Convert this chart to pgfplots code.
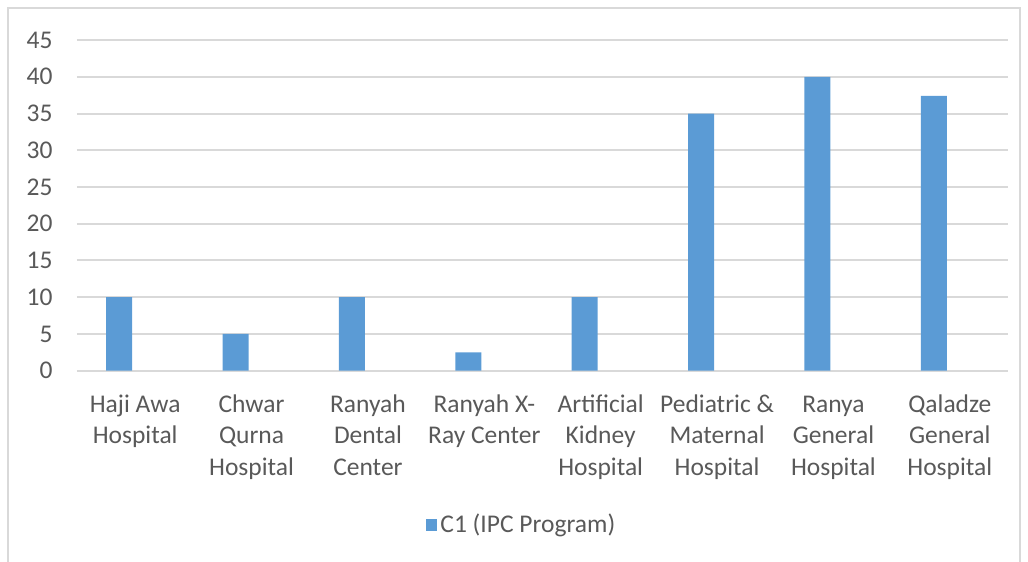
\documentclass[border=0pt]{standalone}
\usepackage{fontspec}
\setmainfont{Carlito}
\usepackage{pgfplots}
\pgfplotsset{compat=1.18}
\definecolor{barblue}{HTML}{5B9BD5}
\definecolor{txtgray}{HTML}{595959}
\definecolor{gridgray}{HTML}{D9D9D9}

\begin{document}
\begin{tikzpicture}
  % 1 px of the reference = 0.5pt
  \useasboundingbox (0,0) rectangle (514pt,-281pt);
  \draw[gridgray,line width=0.8pt] (4pt,-4pt) rectangle (510pt,-295pt);
  \begin{axis}[
    at={(38.5pt,-185.35pt)}, anchor=south west,
    scale only axis, width=465.5pt, height=165.35pt,
    ymin=0, ymax=45, ytick={0,5,...,45},
    xmin=0.5, xmax=8.5, xtick={1,...,8},
    xticklabels={{\strut Haji Awa\\Hospital},{\strut Chwar\\Qurna\\Hospital},
      {\strut Ranyah\\Dental\\Center},{\strut Ranyah X-\\Ray Center},
      {\strut Artificial\\Kidney\\Hospital},{\strut Pediatric \&\\Maternal\\Hospital},
      {\strut Ranya\\General\\Hospital},{\strut Qaladze\\General\\Hospital}},
    ybar, bar width=13pt, bar shift=-8pt,
    axis line style={draw=none},
    major tick length=0pt,
    ymajorgrids, grid style={gridgray,line width=1pt},
    /pgf/number format/assume math mode=true,
    tick label style={font=\fontsize{12.75}{15.85}\selectfont, text=txtgray},
    yticklabel style={inner sep=0pt, anchor=east, xshift=-12pt},
    xticklabel style={inner sep=0pt, anchor=north, yshift=-9.5pt, align=center},
    legend style={draw=none, fill=none, font=\fontsize{12.75}{15.85}\selectfont,
      text=txtgray, at={(0.478,-0.4666)}, anchor=center,
      inner sep=0pt, nodes={inner sep=1.5pt}},
    legend image code/.code={\fill[barblue] (0pt,-3.2pt) rectangle (5.8pt,3.2pt);},
    clip=false,
  ]
  \addplot[fill=barblue, draw=none] coordinates {
    (1,10) (2,5) (3,10) (4,2.5) (5,10) (6,35) (7,40) (8,37.4)};
  \addlegendentry{C1 (IPC Program)}
  \end{axis}
\end{tikzpicture}
\end{document}
